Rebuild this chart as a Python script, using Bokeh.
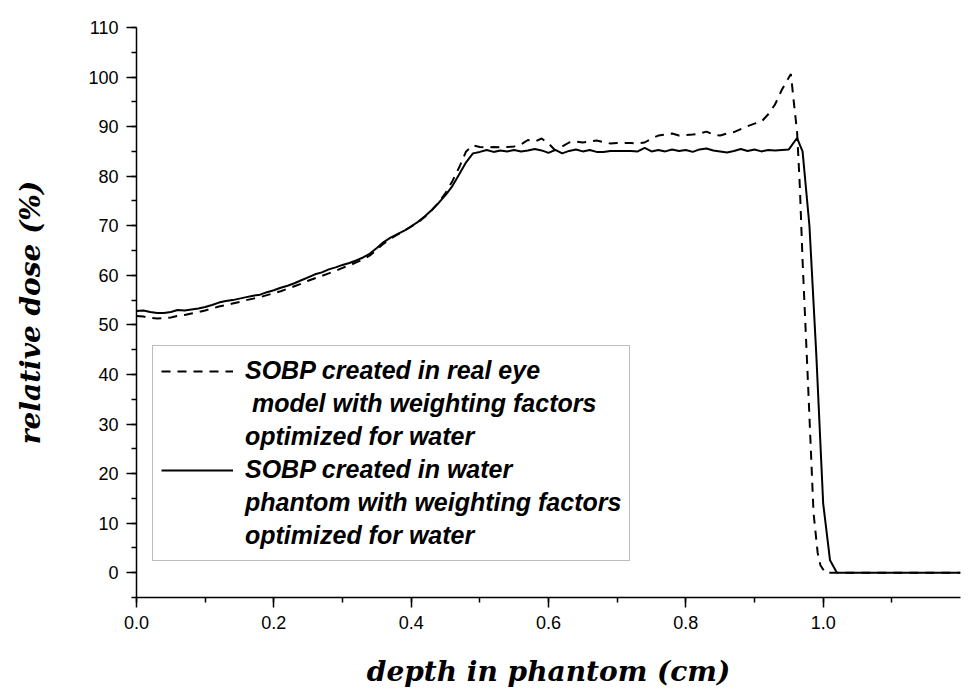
from bokeh.plotting import figure
from bokeh.models import (Range1d, SingleIntervalTicker, NumeralTickFormatter,
                          Legend, LegendItem)
from bokeh.embed import file_html
from bokeh.resources import INLINE

# ---- data ----
depth_water = [0.00, 0.01, 0.02, 0.03, 0.04, 0.05, 0.06, 0.07, 0.08, 0.09,
               0.10, 0.11, 0.12, 0.13, 0.14, 0.15, 0.16, 0.17, 0.18, 0.19,
               0.20, 0.21, 0.22, 0.23, 0.24, 0.25, 0.26, 0.27, 0.28, 0.29,
               0.30, 0.31, 0.32, 0.33, 0.34, 0.35, 0.36, 0.37, 0.38, 0.39,
               0.40, 0.41, 0.42, 0.43, 0.44, 0.45, 0.46, 0.47, 0.48, 0.49,
               0.50, 0.51, 0.52, 0.53, 0.54, 0.55, 0.56, 0.57, 0.58, 0.59,
               0.60, 0.61, 0.62, 0.63, 0.64, 0.65, 0.66, 0.67, 0.68, 0.69,
               0.70, 0.71, 0.72, 0.73, 0.74, 0.75, 0.76, 0.77, 0.78, 0.79,
               0.80, 0.81, 0.82, 0.83, 0.84, 0.85, 0.86, 0.87, 0.88, 0.89,
               0.90, 0.91, 0.92, 0.93, 0.94, 0.95, 0.962, 0.970, 0.980, 0.990,
               1.000, 1.010, 1.020, 1.10, 1.20]
dose_water = [52.8, 52.9, 52.6, 52.4, 52.4, 52.6, 53.0, 52.9, 53.1, 53.3,
              53.6, 54.0, 54.5, 54.8, 55.0, 55.3, 55.6, 55.9, 56.1, 56.6,
              57.0, 57.5, 57.9, 58.4, 59.0, 59.6, 60.2, 60.6, 61.2, 61.6,
              62.1, 62.5, 63.0, 63.6, 64.4, 65.5, 66.7, 67.6, 68.3, 69.0,
              69.9, 70.8, 71.9, 73.2, 74.6, 76.2, 78.0, 80.4, 82.8, 84.6,
              84.9, 85.3, 84.9, 85.2, 85.0, 85.3, 85.0, 85.2, 85.5, 85.2,
              84.7, 85.3, 84.6, 85.1, 85.4, 85.0, 85.3, 84.9, 84.9, 85.1,
              85.1, 85.1, 85.1, 85.0, 85.7, 85.0, 85.3, 85.0, 85.4, 85.1,
              85.3, 84.9, 85.4, 85.6, 85.2, 85.0, 84.8, 85.1, 85.5, 85.1,
              85.4, 85.0, 85.3, 85.2, 85.3, 85.4, 87.7, 85.0, 70.0, 44.0,
              14.0, 2.5, 0.0, 0.0, 0.0]

depth_eye = [0.00, 0.01, 0.02, 0.03, 0.04, 0.05, 0.06, 0.07, 0.08, 0.09,
             0.10, 0.11, 0.12, 0.13, 0.14, 0.15, 0.16, 0.17, 0.18, 0.19,
             0.20, 0.21, 0.22, 0.23, 0.24, 0.25, 0.26, 0.27, 0.28, 0.29,
             0.30, 0.31, 0.32, 0.33, 0.34, 0.35, 0.36, 0.37, 0.38, 0.39,
             0.40, 0.41, 0.42, 0.43, 0.44, 0.45, 0.46, 0.47, 0.48, 0.49,
             0.50, 0.51, 0.52, 0.53, 0.54, 0.55, 0.56, 0.57, 0.58, 0.59,
             0.60, 0.61, 0.62, 0.63, 0.64, 0.65, 0.66, 0.67, 0.68, 0.69,
             0.70, 0.71, 0.72, 0.73, 0.74, 0.75, 0.76, 0.77, 0.78, 0.79,
             0.80, 0.81, 0.82, 0.83, 0.84, 0.85, 0.86, 0.87, 0.88, 0.89,
             0.90, 0.91, 0.92, 0.93, 0.94, 0.953, 0.958, 0.962, 0.966, 0.970,
             0.978, 0.986, 0.992, 0.996, 1.003, 1.10, 1.20]
dose_eye = [51.8, 51.7, 51.4, 51.3, 51.4, 51.5, 51.8, 52.0, 52.3, 52.6,
            52.9, 53.3, 53.7, 54.0, 54.3, 54.6, 55.0, 55.3, 55.6, 56.0,
            56.4, 56.8, 57.3, 57.8, 58.3, 58.9, 59.4, 59.9, 60.4, 60.9,
            61.5, 62.0, 62.6, 63.2, 64.0, 65.2, 66.4, 67.4, 68.2, 69.0,
            69.8, 70.7, 71.8, 73.1, 74.7, 76.6, 79.0, 81.8, 85.0, 86.2,
            85.9, 85.8, 85.9, 85.8, 85.9, 86.0, 86.4, 87.3, 87.0, 87.6,
            86.6, 85.2, 86.0, 86.8, 87.0, 86.8, 87.0, 87.2, 86.9, 86.6,
            86.7, 86.7, 86.7, 86.6, 86.8, 87.6, 88.2, 88.4, 88.6, 88.2,
            88.3, 88.4, 88.6, 89.0, 88.4, 88.2, 88.6, 88.9, 89.5, 90.1,
            90.6, 91.0, 92.5, 94.5, 97.5, 100.6, 94.0, 89.0, 78.0, 63.0,
            38.0, 12.0, 4.0, 1.5, 0.0, 0.0, 0.0]

legend_eye = ["SOBP created in real eye",
              " model with weighting factors",
              "optimized for water"]
legend_water = ["SOBP created in water",
                "phantom with weighting factors",
                "optimized for water"]

x_title = "depth in phantom (cm)"
y_title = "relative dose (%)"

# ---- figure ----
p = figure(width=979, height=695, output_backend="svg", toolbar_location=None,
           x_range=Range1d(0, 1.2), y_range=Range1d(-5, 110),
           min_border_left=136, min_border_right=19, min_border_top=27,
           min_border_bottom=98)
p.outline_line_color = None
p.xgrid.visible = False
p.ygrid.visible = False
p.background_fill_color = "white"
p.border_fill_color = "white"

r_eye = p.line(depth_eye, dose_eye, line_color="black", line_width=2,
               line_dash="9 7")
r_water = p.line(depth_water, dose_water, line_color="black", line_width=2)
# renderer without data, used only for continuation lines in the legend
r_none = p.line([], [], line_alpha=0)

p.xaxis.ticker = SingleIntervalTicker(interval=0.2, num_minor_ticks=2)
p.yaxis.ticker = SingleIntervalTicker(interval=10, num_minor_ticks=2)
p.xaxis.formatter = NumeralTickFormatter(format="0.0")

for ax in (p.xaxis[0], p.yaxis[0]):
    ax.axis_line_color = "black"
    ax.axis_line_width = 1.5
    ax.major_tick_line_color = "black"
    ax.major_tick_line_width = 1.5
    ax.minor_tick_line_color = "black"
    ax.minor_tick_line_width = 1.5
    ax.major_tick_in = 0
    ax.major_tick_out = 10
    ax.minor_tick_in = 0
    ax.minor_tick_out = 5
    ax.major_label_text_font = "Liberation Sans"
    ax.major_label_text_font_size = "18px"
    ax.major_label_text_color = "black"
    ax.major_label_standoff = 8
    ax.axis_label_text_font = "DejaVu Serif"
    ax.axis_label_text_font_style = "bold italic"
    ax.axis_label_text_font_size = "28px"
    ax.axis_label_text_color = "black"

p.xaxis.axis_label = x_title
p.yaxis.axis_label = y_title
p.xaxis.axis_label_standoff = 23
p.yaxis.axis_label_standoff = 38

items = []
for i, txt in enumerate(legend_eye):
    items.append(LegendItem(label=txt, renderers=[r_eye if i == 0 else r_none]))
for i, txt in enumerate(legend_water):
    items.append(LegendItem(label=txt, renderers=[r_water if i == 0 else r_none]))

legend = Legend(items=items, location=(16, 36))
legend.label_text_font = "Liberation Sans"
legend.label_text_font_style = "bold italic"
legend.label_text_font_size = "25px"
legend.label_text_color = "black"
legend.label_height = 33
legend.glyph_width = 72
legend.glyph_height = 20
legend.label_standoff = 12
legend.padding = 8
legend.spacing = 0
legend.margin = 0
legend.border_line_color = "#7a7a7a"
legend.border_line_width = 1
legend.background_fill_color = "white"
legend.background_fill_alpha = 1
p.add_layout(legend)

open("out.html", "w").write(file_html(p, INLINE))
